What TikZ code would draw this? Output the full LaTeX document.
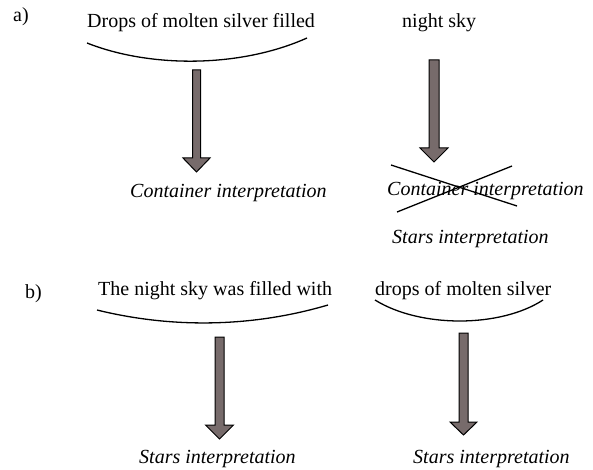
\documentclass[tikz,border=0pt]{standalone}
\usepackage{fontspec}
\setmainfont{LiberationSerif}[Extension=.ttf,UprightFont=*-Regular,ItalicFont=*-Italic,BoldFont=*-Bold,BoldItalicFont=*-BoldItalic]
\begin{document}
\begin{tikzpicture}[x=1pt,y=-1pt,
  txt/.style={inner sep=0pt,anchor=base west,font=\fontsize{20}{24}\selectfont},
  itxt/.style={txt,font=\fontsize{20}{24}\selectfont\itshape},
  brace/.style={draw=black,line width=1.3pt},
  blockarrow/.style={draw=black,line width=1pt,fill=arrowfill,line join=miter},
  cross/.style={draw=black,line width=1.3pt}]
\definecolor{arrowfill}{HTML}{776B6B}
\useasboundingbox (0,0) rectangle (593,470);

% block arrow: centre x, shaft top, head top, tip, half shaft width, half head width
\newcommand\blockarr[6]{%
  \draw[blockarrow] (#1-#5,#2) -- (#1+#5,#2) -- (#1+#5,#3) -- (#1+#6,#3)
    -- (#1,#4) -- (#1-#6,#3) -- (#1-#5,#3) -- cycle;}

% ---------------- part a) ----------------
\node[txt] (la) at (13,22) {a)};
\node[txt] (a1) at (87,28) {Drops of molten silver filled};
\node[txt] (a2) at (402,28) {night sky};
\coordinate (b1s) at (87,43);
\coordinate (b1e) at (307,38);
\draw[brace] (b1s) .. controls (150,68) and (240,68) .. (b1e);

\blockarr{196.5}{70}{158}{172}{4}{13.5}
\blockarr{434}{60}{148}{162}{5}{14}

\node[itxt] (c1) at (130,197) {Container interpretation};
\node[itxt] (c2) at (387,196) {Container interpretation};
\coordinate (x1s) at (391,165);
\coordinate (x1e) at (517,206);
\coordinate (x2s) at (397,212);
\coordinate (x2e) at (512,166);
\draw[cross] (x1s) -- (x1e);
\draw[cross] (x2s) -- (x2e);
\node[itxt] (s1) at (392,243) {Stars interpretation};

% ---------------- part b) ----------------
\node[txt] (lb) at (25,298) {b)};
\node[txt] (b1) at (98,295) {The night sky was filled with};
\node[txt] (b2) at (375,295) {drops of molten silver};
\coordinate (b2s) at (97,310);
\coordinate (b2e) at (328,305);
\draw[brace] (b2s) .. controls (170,328) and (250,328) .. (b2e);
\coordinate (b3s) at (375,300);
\coordinate (b3e) at (543,300);
\draw[brace] (b3s) .. controls (420,328) and (500,328) .. (b3e);

\blockarr{219.5}{337}{425}{439}{4.5}{14}
\blockarr{463.5}{333}{422}{435}{4.5}{13.5}

\node[itxt] (s2) at (139,463) {Stars interpretation};
\node[itxt] (s3) at (413,463) {Stars interpretation};
\end{tikzpicture}
\end{document}
